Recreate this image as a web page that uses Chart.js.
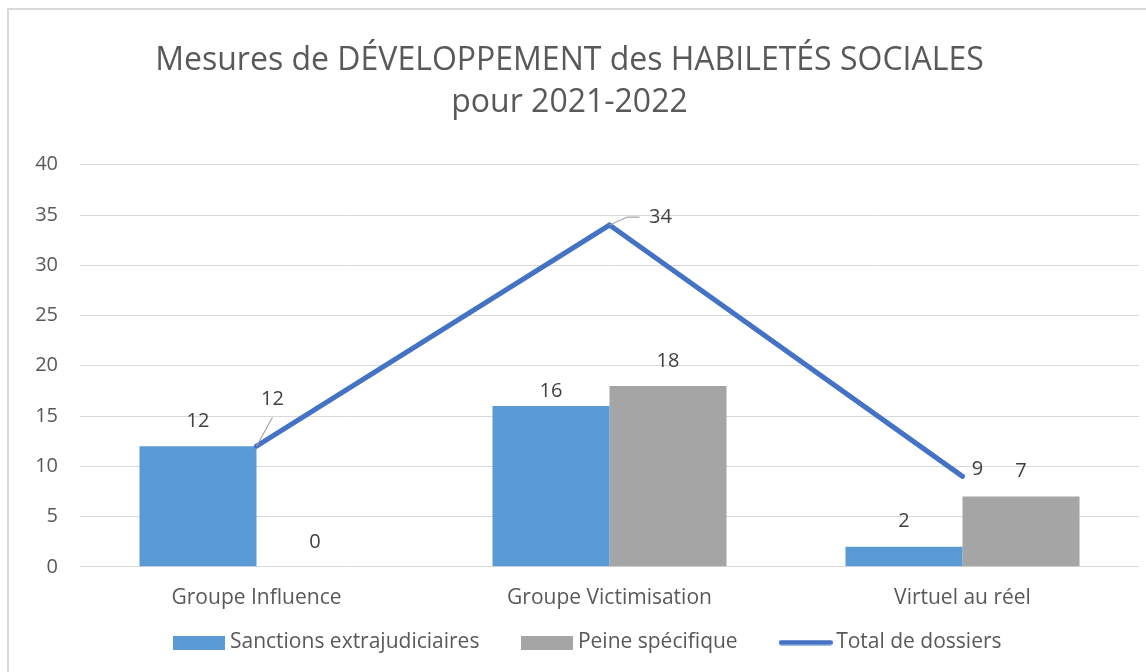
<!DOCTYPE html>
<html><head><meta charset="utf-8">
<script src="https://cdn.jsdelivr.net/npm/chart.js@4.4.0/dist/chart.umd.min.js"></script>
<style>html,body{margin:0;padding:0;background:#fff;overflow:hidden;}</style>
</head><body>
<canvas id="c" width="1146" height="672"></canvas>
<script>
// ---- data ----
const titleLines = ['Mesures de DÉVELOPPEMENT des HABILETÉS SOCIALES', 'pour 2021-2022'];
const categories = ['Groupe Influence', 'Groupe Victimisation', 'Virtuel au réel'];
const seriesNames = ['Sanctions extrajudiciaires', 'Peine spécifique', 'Total de dossiers'];
const sanctionsValues = [12, 16, 2];
const peineValues = [0, 18, 7];
const totalValues = [12, 34, 9];
const yTickValues = [0, 5, 10, 15, 20, 25, 30, 35, 40];

// ---- styles ----
const FONT = '"Open Sans"';
const BLUE = '#5B9BD5', GRAY = '#A5A5A5', LINE = '#4472C4', TEXT = '#595959', LABEL = '#404040';

function boxImage(color, w, h) {
  const c = document.createElement('canvas'); c.width = w; c.height = h;
  const x = c.getContext('2d'); x.fillStyle = color; x.fillRect(0, 0, w, h); return c;
}
function lineImage(color, w, h, lw) {
  const c = document.createElement('canvas'); c.width = w; c.height = h;
  const x = c.getContext('2d'); x.strokeStyle = color; x.lineWidth = lw; x.lineCap = 'round';
  x.beginPath(); x.moveTo(lw / 2, h / 2); x.lineTo(w - lw / 2, h / 2); x.stroke(); return c;
}
const legendImgs = [boxImage(BLUE, 52, 14), boxImage(GRAY, 52, 14), lineImage(LINE, 54, 6, 5)];

const borderPlugin = {
  id: 'outerBorder',
  beforeDraw(chart) {
    const ctx = chart.ctx; ctx.save();
    ctx.strokeStyle = '#D9D9D9'; ctx.lineWidth = 2;
    ctx.beginPath(); ctx.moveTo(8, 700); ctx.lineTo(8, 9); ctx.lineTo(1160, 9); ctx.stroke();
    ctx.restore();
  }
};

// place legend closer to axis labels (overlapping the reserved layout box)
const legendShiftPlugin = {
  id: 'legendShift',
  afterLayout(chart, args, opts) {
    const lg = chart.legend; if (!lg) return;
    lg.top -= opts.dy; lg.bottom -= opts.dy;
    lg.left += opts.dx; lg.right += opts.dx;
  }
};

const labelPlugin = {
  id: 'valueLabels',
  afterDatasetsDraw(chart, args, opts) {
    const ctx = chart.ctx; ctx.save();
    ctx.font = '20px ' + FONT; ctx.fillStyle = LABEL; ctx.textAlign = 'center'; ctx.textBaseline = 'middle';
    chart.data.datasets.forEach((ds, di) => {
      const meta = chart.getDatasetMeta(di);
      meta.data.forEach((el, i) => {
        const v = ds.data[i];
        if (ds.type === 'line') {
          const o = opts.lineOffsets[i];
          if (o.leader) {
            ctx.save(); ctx.strokeStyle = '#A6A6A6'; ctx.lineWidth = 1.2;
            ctx.beginPath(); ctx.moveTo(el.x, el.y);
            o.leader.forEach(p => ctx.lineTo(el.x + p[0], el.y + p[1]));
            ctx.stroke(); ctx.restore();
          }
          ctx.fillText(String(v), el.x + o.dx, el.y + o.dy);
        } else {
          const key = di + '-' + i;
          const gap = (key in opts.barGapOverrides) ? opts.barGapOverrides[key] : opts.barGap;
          ctx.fillText(String(v), el.x, el.y - gap);
        }
      });
    });
    ctx.restore();
  }
};

new Chart(document.getElementById('c'), {
  type: 'bar',
  data: {
    labels: categories,
    datasets: [
      { type: 'bar', label: seriesNames[0], data: sanctionsValues, backgroundColor: BLUE, order: 2,
        categoryPercentage: 0.663, barPercentage: 1.0 },
      { type: 'bar', label: seriesNames[1], data: peineValues, backgroundColor: GRAY, order: 3,
        categoryPercentage: 0.663, barPercentage: 1.0 },
      { type: 'line', label: seriesNames[2], data: totalValues, borderColor: LINE, borderWidth: 5,
        pointRadius: 0, borderCapStyle: 'round', tension: 0, fill: false, order: 1 }
    ]
  },
  options: {
    responsive: false,
    animation: false,
    layout: { padding: { left: 0, right: 7, top: 0, bottom: -37 } },
    plugins: {
      tooltip: { enabled: false },
      title: {
        display: true, text: titleLines, color: TEXT,
        font: { family: FONT, size: 32, weight: 'normal', lineHeight: 1.34 },
        padding: { top: 39, bottom: 40 }
      },
      legend: {
        position: 'bottom',
        labels: {
          usePointStyle: true, pointStyleWidth: 40, padding: 48,
          color: TEXT, font: { family: FONT, size: 21 },
          generateLabels: (chart) => [0, 1, 2].map(i => ({
            text: seriesNames[i], pointStyle: legendImgs[i], datasetIndex: i,
            fillStyle: 'transparent', strokeStyle: 'transparent', lineWidth: 0, fontColor: TEXT, hidden: false
          }))
        }
      },
      legendShift: { dx: 21, dy: 46 },
      valueLabels: {
        barGap: 25,
        barGapOverrides: { '0-1': 15 },
        lineOffsets: [
          { dx: 16, dy: -47, leader: [[16, -29]] },
          { dx: 51, dy: -8, leader: [[18, -8], [30, -8]] },
          { dx: 15, dy: -7 }
        ]
      }
    },
    scales: {
      x: {
        grid: { display: false, drawTicks: false },
        border: { display: false },
        ticks: { color: TEXT, font: { family: FONT, size: 21 }, padding: 19, maxRotation: 0 }
      },
      y: {
        min: 0, max: 40,
        afterBuildTicks: (s) => { s.ticks = yTickValues.map(v => ({ value: v })); },
        grid: { color: '#D9D9D9', lineWidth: 1, drawTicks: false },
        border: { display: false },
        ticks: { color: TEXT, font: { family: FONT, size: 20 }, padding: 22 },
        afterFit: (s) => { s.width = 80; }
      }
    }
  },
  plugins: [borderPlugin, legendShiftPlugin, labelPlugin]
});
</script>
</body></html>
